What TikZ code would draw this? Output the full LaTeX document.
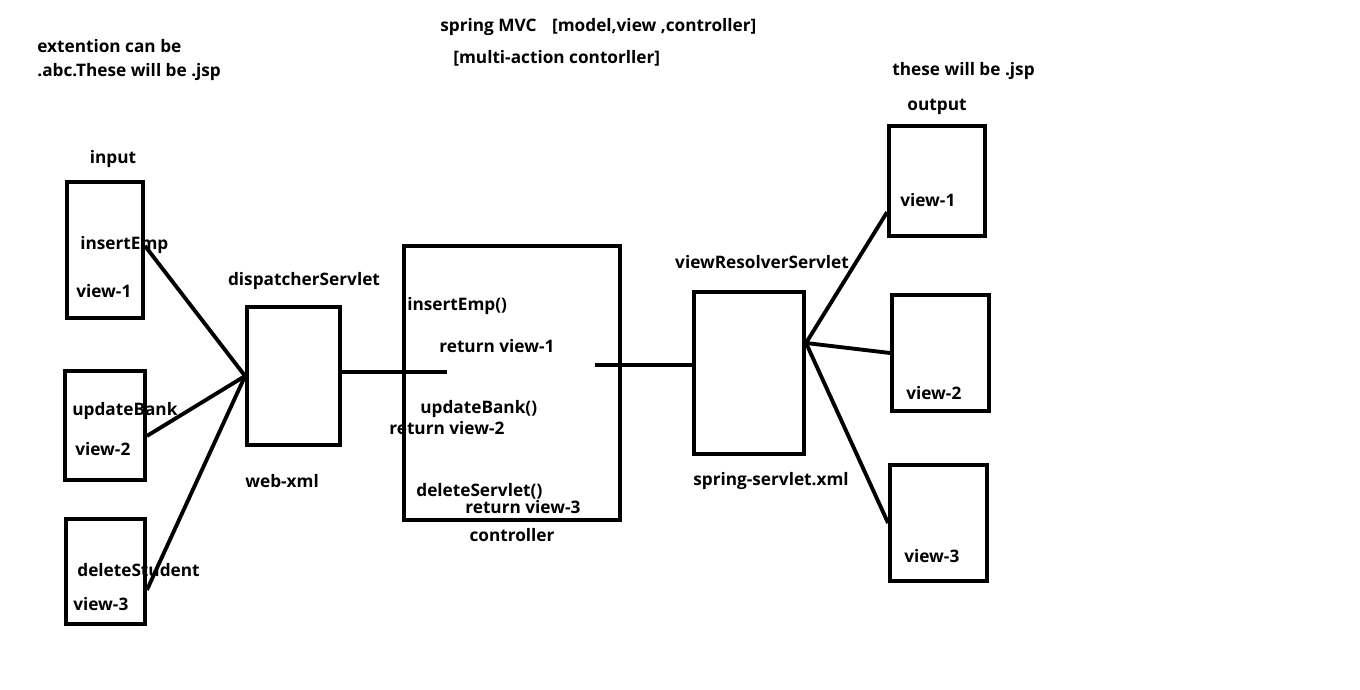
\documentclass[tikz,border=0pt]{standalone}
\usepackage{fontspec}
\setmainfont{Open Sans}
\usepackage{tikz}
\usetikzlibrary{positioning}

\begin{document}
\begin{tikzpicture}[x=0.02cm,y=-0.02cm,
	box/.style={draw,black,line width=2.2pt,inner sep=0pt},
	lbl/.style={black,inner sep=0pt,font=\bfseries\fontsize{9.8}{11}\selectfont},
	txt/.style={lbl,anchor=west},
	wire/.style={black,line width=2.2pt}]
\useasboundingbox (0,0) rectangle (1360,690);
% input pages
\node[box,minimum width=1.52cm,minimum height=2.72cm] (in1) at (105,250) {};
\node[box,minimum width=1.6cm,minimum height=2.18cm] (in2) at (105,425.5) {};
\node[box,minimum width=1.58cm,minimum height=2.1cm] (in3) at (105.5,571.5) {};
\node[lbl] (input) at (113,159) {input};
\node[txt] (ext1) at (37,46) {extention can be};\node[txt] (ext2) at (37,72) {.abc.These will be .jsp};
\node[txt] (ie) at (80,245) {insertEmp};\node[txt] (iv1) at (76,291) {view-1};
\node[txt] (ub) at (72,411) {updateBank};\node[txt] (iv2) at (75,449) {view-2};
\node[txt] (ds) at (77,570) {deleteStudent};\node[txt] (iv3) at (73,604) {view-3};
% front servlet
\node[box,minimum width=1.86cm,minimum height=2.76cm] (disp) at (293.5,376) {};
\node[lbl] (dispname) at (304,281) {dispatcherServlet};
\node[txt] (webxml) at (245,481) {web-xml};
% controller
\node[box,minimum width=4.32cm,minimum height=5.48cm] (ctrl) at (512,383) {};
\node[lbl,below=0.12cm of ctrl] (ctrlname) {controller};
\node[txt] (m1) at (407,306) {insertEmp()};\node[txt] (r1) at (439,346) {return view-1};
\node[txt] (m2) at (420,409) {updateBank()};\node[txt] (r2) at (389,428) {return view-2};
\node[txt] (m3) at (416,491) {deleteServlet()};\node[txt] (r3) at (465,507) {return view-3};
% view resolver
\node[box,minimum width=2.2cm,minimum height=3.24cm] (vr) at (749,373) {};
\node[lbl] (vrname) at (762,262) {viewResolverServlet};
\node[lbl] (vrxml) at (771,481) {spring-servlet.xml};
% output pages
\node[box,minimum width=1.92cm,minimum height=2.2cm] (out1) at (937,181) {};
\node[box,minimum width=1.94cm,minimum height=2.32cm] (out2) at (940.5,353) {};
\node[box,minimum width=1.94cm,minimum height=2.32cm] (out3) at (938.5,523) {};
\node[txt] (jsp) at (892,71) {these will be .jsp};\node[lbl] (output) at (937,107) {output};
\node[txt] (ov1) at (900,200) {view-1};\node[txt] (ov2) at (906,393) {view-2};\node[txt] (ov3) at (904,556) {view-3};
% title
\node[txt] (title) at (440,27) {spring MVC\hspace{0.9em}[model,view ,controller]};
\node[txt] (title2) at (453,58) {[multi-action contorller]};
% wires
\coordinate (ctrlin) at (447,372);\coordinate (ctrlout) at (595,365);\coordinate (hub) at (806,343);
\draw[wire] (in1.6) -- (disp.west);\draw[wire] (in2.-14) -- (disp.west);\draw[wire] (in3.-24) -- (disp.west);
\draw[wire] (disp.east |- ctrlin) -- (ctrlin);
\draw[wire] (ctrlout) -- ([xshift=0.08cm]vr.west |- ctrlout);
\draw[wire] (hub) -- (out1.212);\draw[wire] (hub) -- (out2.west);\draw[wire] (hub) -- (out3.west);
\end{tikzpicture}
\end{document}
